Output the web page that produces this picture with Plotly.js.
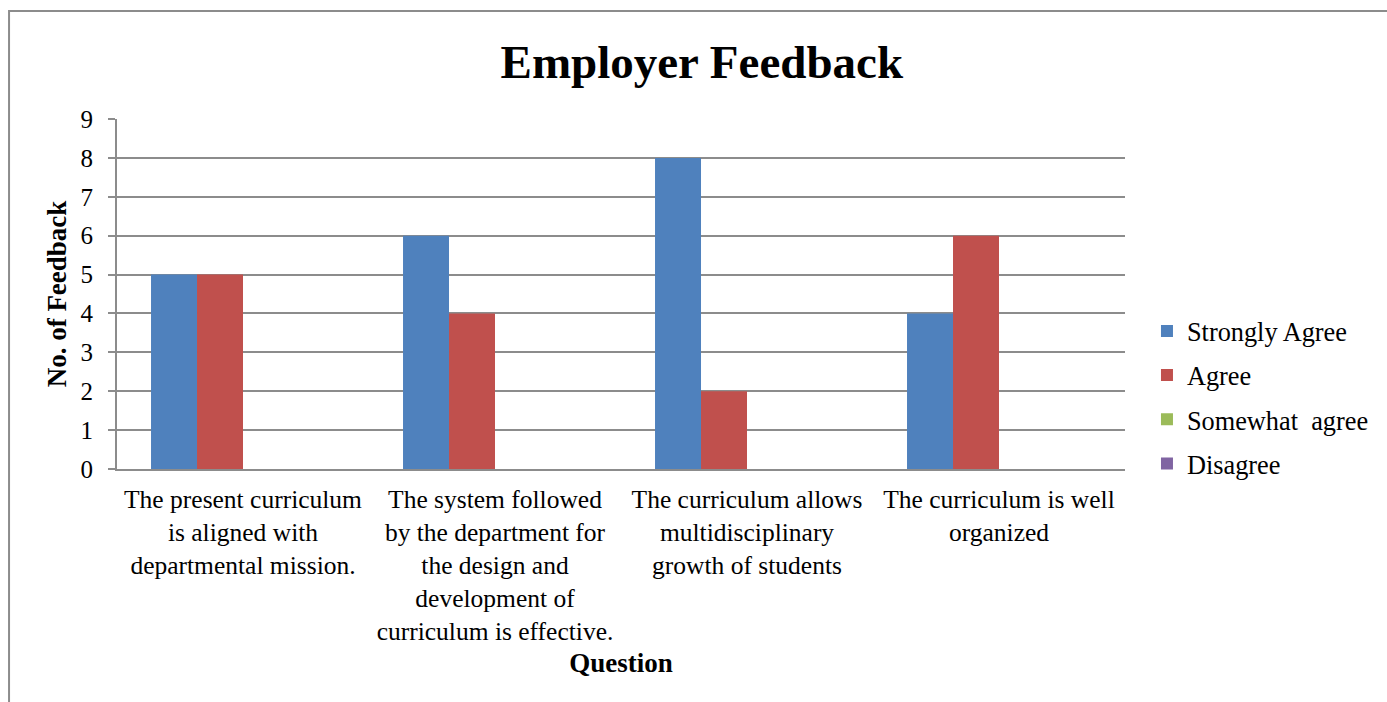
<!DOCTYPE html>
<html>
<head>
<meta charset="utf-8">
<script src="https://cdn.plot.ly/plotly-3.0.1.min.js"></script>
<style>
html,body{margin:0;padding:0;background:#fff;}
#chart{width:1387px;height:702px;}
</style>
</head>
<body>
<div id="chart"></div>
<script>
const categories = [
  "The present curriculum<br>is aligned with<br>departmental mission.",
  "The system followed<br>by the department for<br>the design and<br>development of<br>curriculum is effective.",
  "The curriculum allows<br>multidisciplinary<br>growth of students",
  "The curriculum is well<br>organized"
];
const seriesNames = ["Strongly Agree", "Agree", "Somewhat  agree", "Disagree"];
const stronglyAgree = [5, 6, 8, 4];
const agree = [5, 4, 2, 6];
const somewhatAgree = [0, 0, 0, 0];
const disagree = [0, 0, 0, 0];
const yTicks = [0, 1, 2, 3, 4, 5, 6, 7, 8, 9];

const colors = ["#4F81BD", "#C0504D", "#9BBB59", "#8064A2"];
const values = [stronglyAgree, agree, somewhatAgree, disagree];
const font = "'Liberation Serif', 'Times New Roman', serif";

const traces = values.map((v, i) => ({
  type: "bar",
  name: seriesNames[i],
  x: categories,
  y: v,
  marker: {color: colors[i]},
  legendgroup: "g" + i,
  hoverinfo: "y+name"
}));

const layout = {
  width: 1387, height: 702,
  margin: {l: 117, r: 262, t: 119, b: 233},
  paper_bgcolor: "#fff", plot_bgcolor: "#fff",
  font: {family: font, color: "#000", size: 25},
  title: {
    text: "<b>Employer Feedback</b>",
    font: {family: font, size: 47, color: "#000"},
    xref: "container", x: 0.506, xanchor: "center",
    yref: "container", y: 0.913, yanchor: "middle"
  },
  barmode: "group",
  bargap: 0.27,
  bargroupgap: 0,
  showlegend: true,
  legend: {
    x: 1.0218, xanchor: "left", y: 0.462, yanchor: "top",
    font: {family: font, size: 26.3, color: "#000"},
    traceorder: "grouped", tracegroupgap: 7,
    borderwidth: 0,
    bgcolor: "rgba(0,0,0,0)"
  },
  xaxis: {
    type: "category",
    showline: true, linecolor: "#8c8c8c", linewidth: 2,
    ticks: "", showgrid: false,
    ticklabelstandoff: 6,
    tickfont: {family: font, size: 25.5, color: "#000"},
    title: {text: "<b>Question</b>", font: {family: font, size: 27, color: "#000"}, standoff: 8},
    automargin: false
  },
  yaxis: {
    range: [0, 9],
    tickvals: yTicks,
    ticktext: yTicks.map(String),
    showline: true, linecolor: "#8c8c8c", linewidth: 2,
    ticks: "outside", ticklen: 7, tickcolor: "#8c8c8c", tickwidth: 2,
    ticklabelstandoff: 10,
    showgrid: true, gridcolor: "#8c8c8c", gridwidth: 2,
    zeroline: false,
    tickfont: {family: font, size: 25, color: "#000"},
    title: {text: "<b>No. of Feedback</b>", font: {family: font, size: 27, color: "#000"}, standoff: 6},
    automargin: false
  },
  shapes: [{
    type: "path", xref: "paper", yref: "paper",
    path: "M -0.1071 -1 L -0.1071 1.3086 L 1.5 1.3086",
    line: {color: "#8c8c8c", width: 2}
  }]
};

Plotly.newPlot("chart", traces, layout, {displayModeBar: false, staticPlot: true});
</script>
</body>
</html>
